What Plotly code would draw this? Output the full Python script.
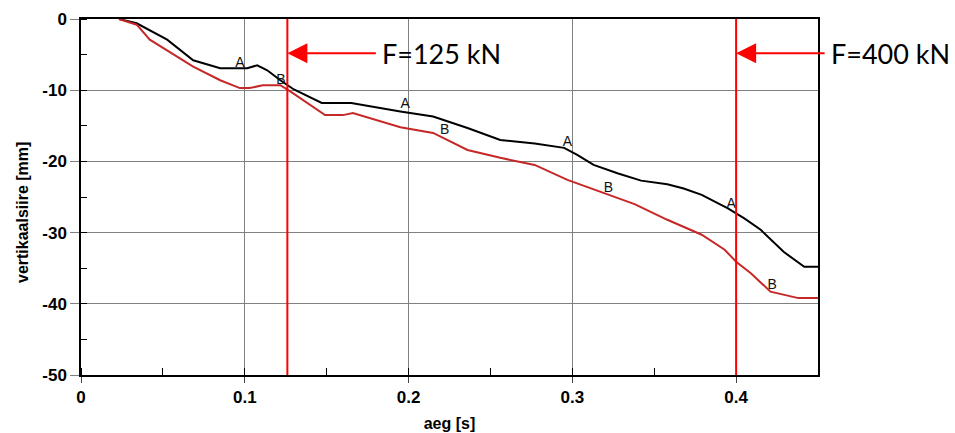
import plotly.graph_objects as go

# Curve A (black)
a_t = [0.0232, 0.034, 0.0526, 0.0685, 0.085, 0.1015, 0.1076, 0.1137, 0.1217, 0.130, 0.147,
       0.165, 0.195, 0.215, 0.236, 0.256, 0.277, 0.295, 0.303, 0.313, 0.328, 0.342, 0.358,
       0.368, 0.379, 0.395, 0.405, 0.415, 0.429, 0.4416, 0.45]
a_v = [0.0, -0.6, -2.9, -5.8, -6.9, -6.9, -6.5, -7.2, -8.6, -9.9, -11.8,
       -11.8, -13.0, -13.7, -15.3, -17.0, -17.5, -18.1, -19.1, -20.5, -21.7, -22.7, -23.2,
       -23.8, -24.7, -26.6, -28.0, -29.6, -32.7, -34.8, -34.8]

# Curve B (red)
b_t = [0.0232, 0.034, 0.042, 0.0526, 0.0685, 0.085, 0.097, 0.103, 0.111, 0.1217, 0.128,
       0.149, 0.160, 0.166, 0.195, 0.215, 0.236, 0.256, 0.277, 0.297, 0.317, 0.338, 0.358,
       0.379, 0.393, 0.400, 0.409, 0.421, 0.438, 0.45]
b_v = [0.0, -0.8, -2.9, -4.4, -6.7, -8.6, -9.7, -9.7, -9.3, -9.3, -10.2,
       -13.5, -13.5, -13.2, -15.2, -16.0, -18.4, -19.5, -20.5, -22.6, -24.3, -26.0, -28.2,
       -30.3, -32.4, -34.1, -35.7, -38.3, -39.2, -39.2]

# Curve labels
a_lab_t = [0.097, 0.198, 0.297, 0.397]
a_lab_v = [-6.2, -12.0, -17.4, -26.0]
b_lab_t = [0.122, 0.222, 0.322, 0.422]
b_lab_v = [-8.6, -15.7, -23.8, -37.4]

# Force markers
force_t = [0.126, 0.400]
force_labels = ["F=125 kN", "F=400 kN"]
force_arrow_v = -4.8

x_ticks = [0, 0.1, 0.2, 0.3, 0.4]
x_tick_labels = ["0", "0.1", "0.2", "0.3", "0.4"]
y_ticks = [0, -10, -20, -30, -40, -50]
y_tick_labels = ["0", "-10", "-20", "-30", "-40", "-50"]
x_title = "aeg [s]"
y_title = "vertikaalsiire [mm]"

fig = go.Figure()
fig.add_trace(go.Scatter(x=a_t, y=a_v, mode="lines", line=dict(color="#000000", width=2), showlegend=False))
fig.add_trace(go.Scatter(x=b_t, y=b_v, mode="lines", line=dict(color="#c62828", width=2), showlegend=False))
fig.add_trace(go.Scatter(x=a_lab_t, y=a_lab_v, mode="text", text=["A"] * len(a_lab_t),
                         textfont=dict(family="Liberation Sans", size=14, color="#111111"),
                         showlegend=False))
fig.add_trace(go.Scatter(x=b_lab_t, y=b_lab_v, mode="text", text=["B"] * len(b_lab_t),
                         textfont=dict(family="Liberation Sans", size=14, color="#111111"),
                         showlegend=False))

for t, lab in zip(force_t, force_labels):
    fig.add_shape(type="line", x0=t, x1=t, y0=0, y1=-50, xref="x", yref="y",
                  line=dict(color="#ff0000", width=2))
    fig.add_annotation(x=t, y=force_arrow_v, xref="x", yref="y", ax=90, ay=0,
                       showarrow=True, arrowhead=2, arrowsize=2, arrowwidth=2,
                       arrowcolor="#ff0000", text="")
    fig.add_annotation(x=t, y=force_arrow_v, xref="x", yref="y", xshift=93,
                       xanchor="left", yanchor="middle", showarrow=False, text=lab,
                       font=dict(family="Lato", size=27, color="#000000"))

# y-axis title (placed slightly below the plot centre, as in the original)
fig.add_annotation(x=0, y=0.455, xref="paper", yref="paper", xshift=-59, textangle=-90,
                   showarrow=False, text=y_title, xanchor="center", yanchor="middle",
                   font=dict(family="Liberation Sans", size=16, weight="bold", color="#000000"))

fig.update_layout(
    width=955, height=433,
    margin=dict(l=81, r=137, t=19, b=58, autoexpand=False),
    plot_bgcolor="white", paper_bgcolor="white",
    font=dict(family="Liberation Sans", color="#000000"),
)
fig.update_xaxes(
    range=[0, 0.45], tickvals=x_ticks, ticktext=x_tick_labels, automargin=False,
    showgrid=True, gridcolor="#808080", gridwidth=1,
    showline=True, linecolor="#000000", linewidth=1.5, mirror=True,
    ticks="outside", ticklen=6, tickcolor="#444444",
    minor=dict(dtick=0.05, tick0=0, ticks="inside", ticklen=7, tickcolor="#000000", showgrid=False),
    tickfont=dict(size=17, weight="bold"), zeroline=False,
    title=dict(text=x_title, font=dict(size=16, weight="bold"), standoff=12),
)
fig.update_yaxes(
    range=[-50, 0], tickvals=y_ticks, ticktext=y_tick_labels, automargin=False,
    showgrid=True, gridcolor="#808080", gridwidth=1,
    showline=True, linecolor="#000000", linewidth=1.5, mirror=True,
    ticks="outside", ticklen=9, tickcolor="#808080",
    minor=dict(dtick=5, tick0=0, ticks="inside", ticklen=6, tickcolor="#000000", showgrid=False),
    tickfont=dict(size=17, weight="bold"), zeroline=False,
)

fig.write_html("out.html")
